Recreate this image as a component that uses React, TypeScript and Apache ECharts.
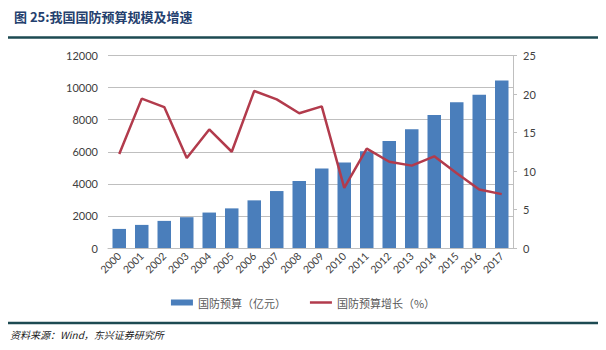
import React, { useEffect, useRef } from "react";
import * as echarts from "echarts";

const years = ["2000","2001","2002","2003","2004","2005","2006","2007","2008","2009","2010","2011","2012","2013","2014","2015","2016","2017"];
const budget = [1190, 1440, 1690, 1920, 2210, 2470, 2970, 3550, 4175, 4960, 5330, 6030, 6670, 7410, 8290, 9080, 9550, 10445];
const growth = [12.2, 19.4, 18.3, 11.7, 15.4, 12.5, 20.4, 19.3, 17.5, 18.4, 7.8, 12.9, 11.2, 10.7, 11.9, 9.7, 7.6, 7.0];
const leftTicks = [0, 2000, 4000, 6000, 8000, 10000, 12000];
const rightTicks = [0, 5, 10, 15, 20, 25];
const seriesNames = ["国防预算（亿元）", "国防预算增长（%）"];
const titleText = "图 25:我国国防预算规模及增速";
const sourceText = "资料来源：Wind，东兴证券研究所";

export default function App() {
  const ref = useRef<HTMLDivElement>(null);
  useEffect(() => {
    if (!ref.current) return;
    const chart = echarts.init(ref.current, null, { renderer: "svg" });
    const axisFont = "Lato, 'Open Sans', sans-serif";
    chart.setOption({
      animation: false,
      backgroundColor: "#ffffff",
      title: {
        text: titleText,
        left: 9,
        top: 5,
        textStyle: {
          fontFamily: "'Noto Sans CJK SC', sans-serif",
          fontSize: 13,
          fontWeight: "bold",
          color: "#24406e",
        },
      },
      graphic: [
        { type: "line", shape: { x1: 8, y1: 37.5, x2: 598, y2: 37.5 }, style: { stroke: "#1d4a52", lineWidth: 2.5 } },
        { type: "line", shape: { x1: 8, y1: 323, x2: 598, y2: 323 }, style: { stroke: "#1d4a52", lineWidth: 2.5 } },
        {
          type: "text",
          left: 10,
          top: 329,
          style: {
            text: sourceText,
            fontFamily: "'Noto Sans CJK SC', sans-serif",
            fontSize: 10,
            fontStyle: "italic",
            fill: "#222222",
          },
        },
      ],
      legend: {
        data: [
          { name: seriesNames[0], icon: "rect" },
          { name: seriesNames[1], icon: "path://M0,0h22v2.5h-22z" },
        ],
        top: 292,
        left: "center",
        itemWidth: 22,
        itemHeight: 6,
        itemGap: 24,
        textStyle: {
          fontFamily: "'Noto Sans CJK SC', sans-serif",
          fontSize: 11,
          color: "#595959",
        },
      },
      grid: { left: 108, right: 93, top: 55.5, bottom: 102, containLabel: false },
      xAxis: {
        type: "category",
        data: years,
        axisLine: { show: true, lineStyle: { color: "#bfbfbf" } },
        axisTick: { show: false },
        axisLabel: {
          rotate: 45,
          interval: 0,
          fontFamily: axisFont,
          fontSize: 10.5,
          color: "#404040",
          margin: 6,
        },
      },
      yAxis: [
        {
          type: "value",
          min: leftTicks[0],
          max: leftTicks[leftTicks.length - 1],
          interval: 2000,
          axisLine: { show: false },
          axisTick: { show: false },
          splitLine: { lineStyle: { color: "#bfbfbf" } },
          axisLabel: {
            fontFamily: axisFont,
            fontSize: 11,
            color: "#404040",
            margin: 10,
            formatter: (v: number) => String(v),
          },
        },
        {
          type: "value",
          min: rightTicks[0],
          max: rightTicks[rightTicks.length - 1],
          interval: 5,
          position: "right",
          axisLine: { show: true, lineStyle: { color: "#bfbfbf" } },
          axisTick: { show: true, length: 4, lineStyle: { color: "#bfbfbf" } },
          splitLine: { show: false },
          axisLabel: {
            fontFamily: axisFont,
            fontSize: 11,
            color: "#404040",
            margin: 10,
            formatter: (v: number) => String(v),
          },
        },
      ],
      series: [
        {
          name: seriesNames[0],
          type: "bar",
          data: budget,
          barWidth: "60%",
          itemStyle: { color: "#4a7ebb" },
          yAxisIndex: 0,
        },
        {
          name: seriesNames[1],
          type: "line",
          data: growth,
          yAxisIndex: 1,
          symbol: "none",
          lineStyle: { color: "#b23b4c", width: 2.5 },
          itemStyle: { color: "#b23b4c" },
        },
      ],
    });
    return () => chart.dispose();
  }, []);
  return (
    <div
      ref={ref}
      style={{ position: "absolute", left: 0, top: 0, width: 606, height: 350 }}
    />
  );
}
